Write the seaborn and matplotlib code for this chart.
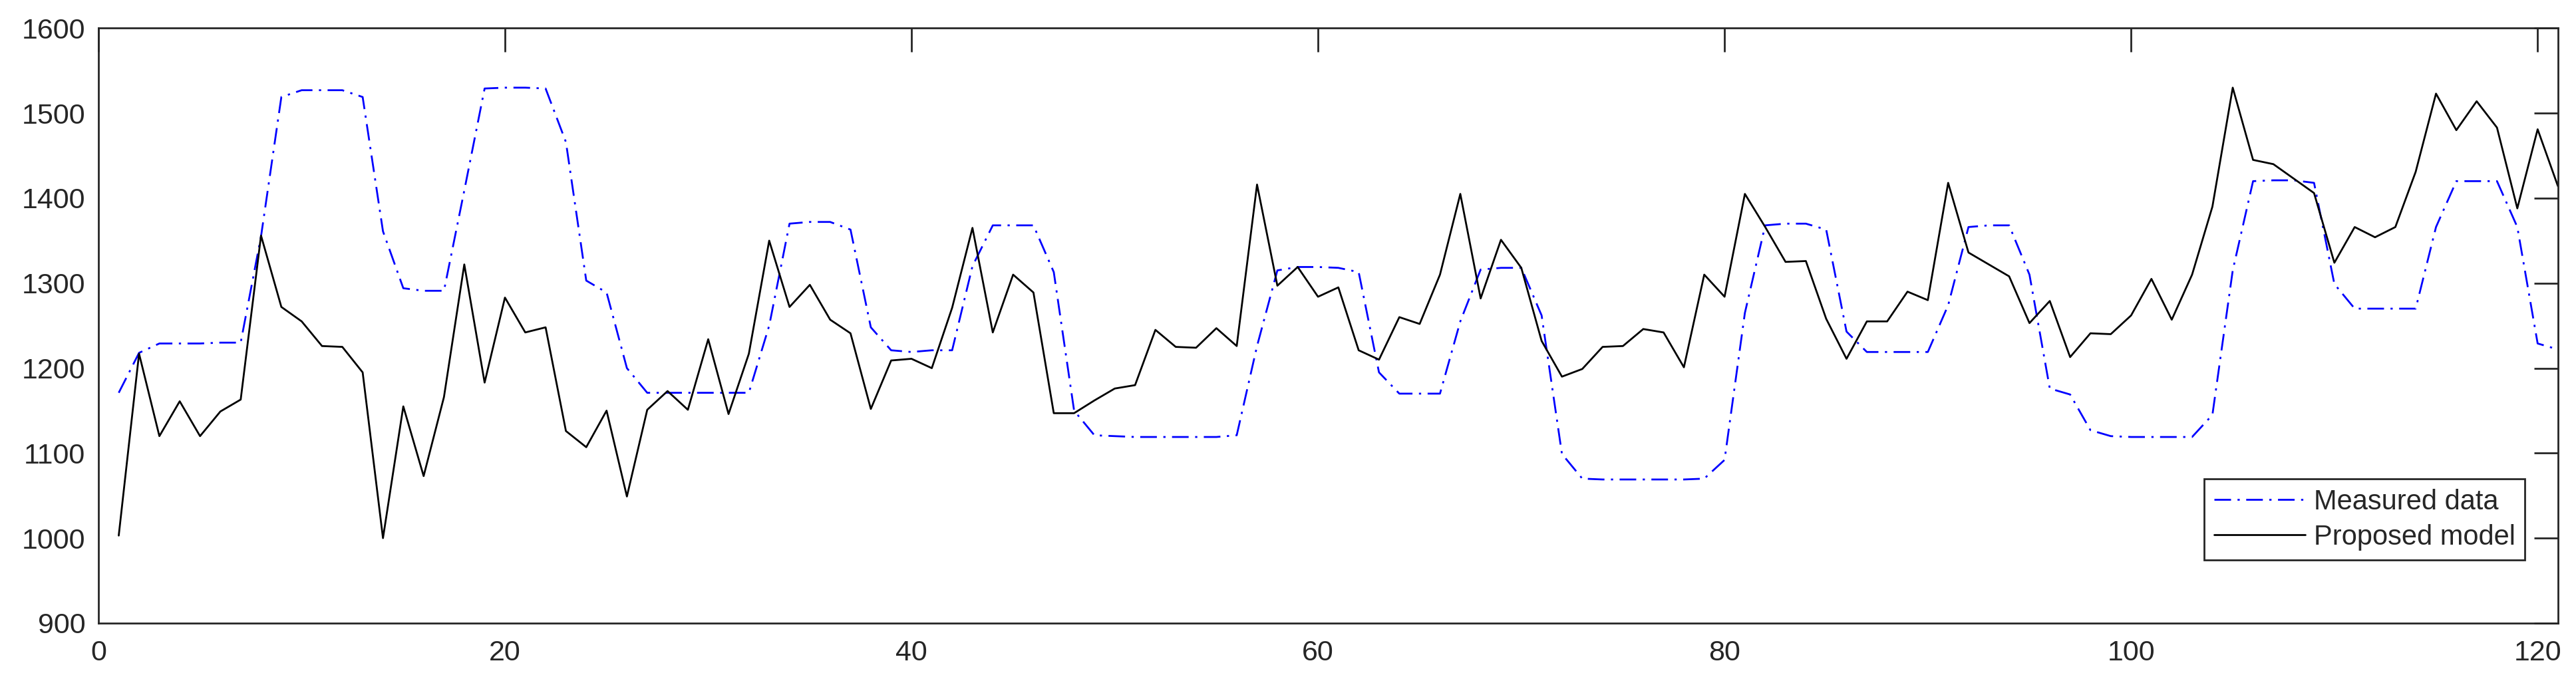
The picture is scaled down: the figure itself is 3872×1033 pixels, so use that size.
import numpy as np
import pandas as pd
import matplotlib
matplotlib.use("Agg")
import matplotlib.pyplot as plt
import seaborn as sns

# ---- data ----
sample_index = list(range(1, 122))

measured_data = [
    1171, 1218, 1229, 1229, 1229, 1230, 1230, 1355, 1519, 1527,
    1527, 1527, 1519, 1361, 1294, 1291, 1291, 1409, 1529, 1530,
    1530, 1529, 1466, 1303, 1289, 1200, 1171, 1171, 1171, 1171,
    1171, 1171, 1250, 1370, 1372, 1372, 1363, 1248, 1221, 1219,
    1221, 1221, 1320, 1368, 1368, 1368, 1313, 1150, 1121, 1120,
    1119, 1119, 1119, 1119, 1119, 1121, 1226, 1315, 1319, 1319,
    1318, 1313, 1195, 1170, 1170, 1170, 1255, 1316, 1318, 1318,
    1262, 1099, 1070, 1069, 1069, 1069, 1069, 1069, 1070, 1092,
    1265, 1368, 1370, 1370, 1363, 1243, 1219, 1219, 1219, 1219,
    1274, 1366, 1368, 1368, 1310, 1176, 1169, 1127, 1120, 1119,
    1119, 1119, 1119, 1145, 1315, 1420, 1421, 1421, 1418, 1299,
    1270, 1270, 1270, 1270, 1366, 1420, 1420, 1420, 1366, 1229,
    1222,
]

proposed_model = [
    1003, 1217, 1120, 1161, 1120, 1149, 1163, 1356, 1272, 1255,
    1226, 1225, 1195, 1000, 1155, 1073, 1166, 1322, 1183, 1283,
    1242, 1248, 1126, 1107, 1150, 1049, 1151, 1173, 1151, 1234,
    1146, 1217, 1350, 1272, 1298, 1257, 1241, 1152, 1209, 1211,
    1200, 1271, 1365, 1242, 1310, 1289, 1147, 1147, 1162, 1176,
    1180, 1245, 1225, 1224, 1247, 1226, 1416, 1297, 1319, 1284,
    1295, 1221, 1210, 1260, 1252, 1310, 1405, 1282, 1351, 1318,
    1232, 1190, 1199, 1225, 1226, 1246, 1242, 1201, 1310, 1284,
    1405, 1366, 1325, 1326, 1258, 1211, 1255, 1255, 1290, 1280,
    1418, 1336, 1322, 1308, 1253, 1279, 1213, 1241, 1240, 1262,
    1305, 1257, 1310, 1390, 1530, 1445, 1440, 1423, 1406, 1324,
    1366, 1354, 1366, 1431, 1523, 1480, 1514, 1483, 1388, 1481,
    1414,
]

series_labels = ["Measured data", "Proposed model"]
x_ticks = [0, 20, 40, 60, 80, 100, 120]
y_ticks = [900, 1000, 1100, 1200, 1300, 1400, 1500, 1600]

# ---- style ----
sns.set_style("white")
plt.rcParams["font.family"] = ["Liberation Sans", "DejaVu Sans"]

DPI = 100
fig = plt.figure(figsize=(38.72, 10.33), dpi=DPI)
ax = fig.add_axes([0.0382, 0.093, 0.9548, 0.866])

axis_color = "#262626"

sns.lineplot(x=sample_index, y=measured_data, ax=ax, color="#0000FF",
             linewidth=2.0, label=series_labels[0])
sns.lineplot(x=sample_index, y=proposed_model, ax=ax, color="#000000",
             linewidth=2.0, label=series_labels[1])
ax.lines[0].set_dashes((9, 3.5, 1.2, 3.5))

ax.set_xlim(0, 121)
ax.set_ylim(900, 1600)
ax.set_xticks(x_ticks)
ax.set_yticks(y_ticks)
ax.set_xticklabels([str(v) for v in x_ticks])
ax.set_yticklabels([str(v) for v in y_ticks])
ax.set_xlabel("")
ax.set_ylabel("")

for side in ["top", "bottom", "left", "right"]:
    ax.spines[side].set_visible(True)
    ax.spines[side].set_color(axis_color)
    ax.spines[side].set_linewidth(2.0)

ax.tick_params(axis="both", which="major", direction="in", length=26,
               width=2.0, color=axis_color, labelcolor=axis_color,
               labelsize=31, top=True, right=True)
ax.tick_params(axis="x", pad=18)
ax.tick_params(axis="y", pad=14)

leg = ax.legend(loc="lower right", bbox_to_anchor=(0.9865, 0.106),
                fontsize=30, frameon=True, fancybox=False, framealpha=1,
                edgecolor=axis_color, handlelength=3.3, handletextpad=0.3,
                borderpad=0.35, labelspacing=0.3, borderaxespad=0)
leg.get_frame().set_linewidth(2.0)

fig.savefig("out.png", dpi=DPI, facecolor="white")
